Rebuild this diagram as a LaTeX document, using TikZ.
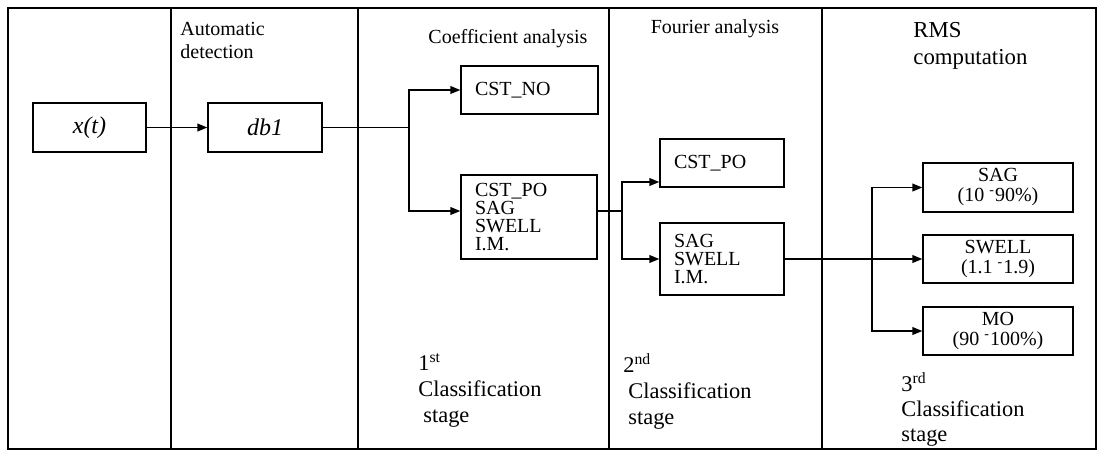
\documentclass[tikz,border=0pt]{standalone}
\usepackage{fontspec}
\setmainfont{Liberation Serif}
\usetikzlibrary{arrows.meta}

\begin{document}
\begin{tikzpicture}[x=0.5pt,y=-0.5pt,>={Triangle[length=5pt,width=3.8pt]}]
    \tikzstyle{box}=[draw,line width=0.6pt,inner sep=0pt,font=\fontsize{10}{9}\selectfont]
    \tikzstyle{lbox}=[box,align=left,inner xsep=7pt]
    \tikzstyle{cbox}=[box,align=center,font=\fontsize{10}{10}\selectfont]
    \tikzstyle{head}=[inner sep=0pt,align=left,anchor=north west]
    \tikzstyle{wire}=[line width=0.6pt]
    \tikzstyle{arr}=[line width=0.9pt,->]
    \useasboundingbox (0,0) rectangle (1098,451);
      % frame and stage dividers
      \draw[line width=0.7pt] (8,8) rectangle (1096,449);
      \foreach \xd in {171,358,609,822}
        \draw[line width=0.8pt] (\xd,8) -- (\xd,449);
      % boxes
      \node[box,minimum width=56.5pt,minimum height=24.5pt,font=\fontsize{12}{12}\selectfont\itshape] (X_t) at (89.5,127.5) {x(t)};
      \node[box,minimum width=57pt,minimum height=24.5pt,font=\fontsize{12}{12}\selectfont\itshape] (D_b) at (265,127.5) {db1};
      \node[lbox,text width=54.5pt,minimum height=24pt] (C_1) at (529.5,90) {CST\_NO};
      \node[lbox,text width=54pt,minimum height=42pt] (C_2) at (529,217) {CST\_PO\\SAG\\SWELL\\I.M.};
      \node[lbox,text width=48pt,minimum height=24pt] (F_1) at (722,163) {CST\_PO};
      \node[lbox,text width=48pt,minimum height=36pt] (F_2) at (722,259) {SAG\\SWELL\\I.M.};
      \node[cbox,minimum width=75pt,minimum height=24.5pt] (R_1) at (998,187.5) {SAG\\(10 \textsuperscript{-}90\%)};
      \node[cbox,minimum width=75pt,minimum height=24pt] (R_2) at (998,259) {SWELL\\(1.1 \textsuperscript{-}1.9)};
      \node[cbox,minimum width=75pt,minimum height=24pt] (R_3) at (998,331) {MO\\(90 \textsuperscript{-}100\%)};
      % branch points
      \coordinate (J_1) at (409,127.5);
      \coordinate (J_2) at (622,211);
      \coordinate (J_3) at (872,259);
      \draw[arr] (X_t) -- (D_b);
      \draw[wire] (D_b) -- (J_1);
      \draw[arr] (J_1) |- (C_1);
      \draw[arr] (J_1) |- ([yshift=3pt]C_2.west);
      \draw[wire] ([yshift=3pt]C_2.east) -- (J_2);
      \draw[arr] (J_2) |- ([yshift=-9.5pt]F_1.west);
      \draw[arr] (J_2) |- (F_2);
      \draw[wire] (F_2) -- (J_3);
      \draw[arr] (J_3) -- (R_2);
      \draw[arr] (J_3) |- (R_1);
      \draw[arr] (J_3) |- (R_3);
      % headings
      \node[head,font=\fontsize{10}{11.5}\selectfont] (H_1) at (180,22) {Automatic\\detection};
      \node[inner sep=0pt,anchor=north,font=\fontsize{10}{12}\selectfont] (H_2) at (508,29) {Coefficient analysis};
      \node[inner sep=0pt,anchor=north,font=\fontsize{10}{12}\selectfont] (H_3) at (715,19) {Fourier analysis};
      \node[head,font=\fontsize{11.4}{13.5}\selectfont] (H_4) at (913,22) {RMS\\computation};
      \node[head,font=\fontsize{11.2}{13}\selectfont] (S_1) at (418,353) {1\textsuperscript{st}\\Classification\\\hspace*{2.5pt}stage};
      \node[head,font=\fontsize{11.2}{13}\selectfont] (S_2) at (623,353) {2\textsuperscript{nd}\\\hspace*{2.5pt}Classification\\\hspace*{2.5pt}stage};
      \node[head,font=\fontsize{11.2}{12.5}\selectfont] (S_3) at (901,372) {3\textsuperscript{rd}\\Classification\\stage};
\end{tikzpicture}
\end{document}
